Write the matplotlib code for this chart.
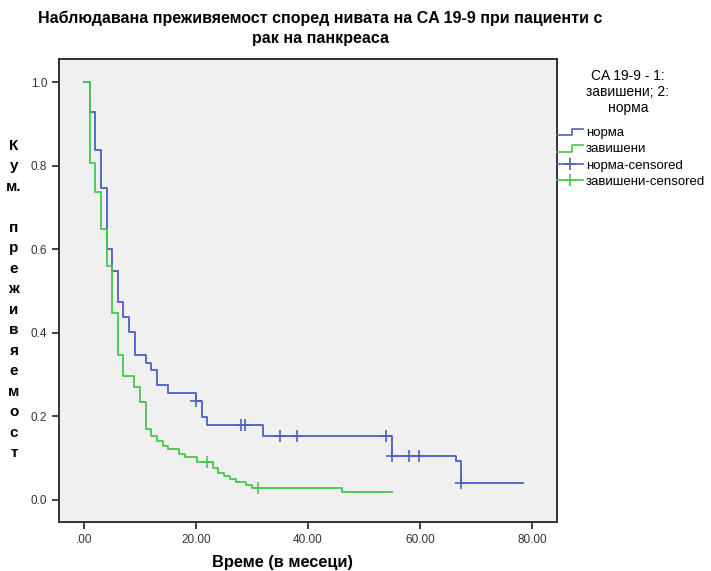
import matplotlib.pyplot as plt
from matplotlib.lines import Line2D
from matplotlib.legend_handler import HandlerBase

# norma (blue) - step times and survival after each step
norma_t = [0, 1.0, 1.9, 3.0, 4.0, 5.0, 6.1, 7.0, 8.0, 9.0, 11.0, 12.0, 13.0, 15.0,
           20.0, 21.0, 22.0, 32.0, 55.0, 66.4, 67.3, 78.5]
norma_s = [1.0, 0.928, 0.837, 0.746, 0.601, 0.547, 0.475, 0.438, 0.401, 0.347, 0.329,
           0.311, 0.275, 0.255, 0.238, 0.199, 0.180, 0.153, 0.104, 0.093, 0.041, 0.041]
norma_cens_t = [20.0, 28.1, 28.8, 35.0, 38.1, 54.0, 55.0, 58.0, 59.8, 67.3]
norma_cens_s = [0.238, 0.180, 0.180, 0.153, 0.153, 0.153, 0.104, 0.104, 0.104, 0.041]

# zavisheni (green)
zav_t = [0, 1.0, 1.9, 3.0, 4.0, 5.0, 6.0, 7.0, 8.9, 10.0, 11.0, 12.0, 13.0, 14.0, 15.0,
         17.0, 18.1, 20.1, 23.1, 24.0, 25.0, 26.0, 27.1, 28.9, 30.0, 46.1, 55.1]
zav_s = [1.0, 0.806, 0.737, 0.648, 0.561, 0.448, 0.347, 0.297, 0.271, 0.234, 0.170, 0.152,
         0.140, 0.128, 0.121, 0.109, 0.102, 0.090, 0.076, 0.064, 0.056, 0.050, 0.042,
         0.036, 0.029, 0.020, 0.020]
zav_cens_t = [22.0, 31.0]
zav_cens_s = [0.090, 0.029]

xticks = [0, 20, 40, 60, 80]
xticklabels = ['.00', '20.00', '40.00', '60.00', '80.00']
yticks = [0.0, 0.2, 0.4, 0.6, 0.8, 1.0]
yticklabels = ['0.0', '0.2', '0.4', '0.6', '0.8', '1.0']

blue = '#4d5fc4'
green = '#45c94a'

plt.rcParams['font.family'] = ['Liberation Sans', 'DejaVu Sans']


class HandlerStep(HandlerBase):
    def create_artists(self, legend, orig_handle, xdescent, ydescent, width, height, fontsize, trans):
        x0 = -xdescent
        y0 = -ydescent
        xs = [x0, x0 + width * 0.55, x0 + width * 0.55, x0 + width]
        ys = [y0 + height * 0.1, y0 + height * 0.1, y0 + height * 0.8, y0 + height * 0.8]
        ln = Line2D(xs, ys, color=orig_handle.get_color(), lw=orig_handle.get_linewidth())
        ln.set_transform(trans)
        return [ln]


fig = plt.figure(figsize=(7.11, 5.71), dpi=100)
ax = fig.add_axes([0.083, 0.0858, 0.7004, 0.8109])
ax.set_facecolor('#f0f0f0')

ax.step(norma_t, norma_s, where='post', color=blue, lw=1.3)
ax.step(zav_t, zav_s, where='post', color=green, lw=1.3)
ax.plot(norma_cens_t, norma_cens_s, ls='none', marker='+', ms=8, mew=1.2, color=blue)
ax.plot(zav_cens_t, zav_cens_s, ls='none', marker='+', ms=8, mew=1.2, color=green)

ax.set_xlim(-4.5, 84.5)
ax.set_ylim(-0.053, 1.056)
ax.set_xticks(xticks)
ax.set_xticklabels(xticklabels)
ax.set_yticks(yticks)
ax.set_yticklabels(yticklabels)
ax.tick_params(direction='out', length=5, width=1.2, color='#222222',
               labelsize=8.5, labelcolor='#333333')
for sp in ax.spines.values():
    sp.set_color('#333333')
    sp.set_linewidth(1.4)

# legend (title drawn separately)
fig.text(628 / 711, 1 - 92 / 571, 'CA 19-9 - 1:\nзавишени; 2:\nнорма', ha='center', va='center',
         fontsize=10, linespacing=1.2)
h1 = Line2D([], [], color=blue, lw=1.2)
h2 = Line2D([], [], color=green, lw=1.2)
h3 = Line2D([], [], color=blue, lw=1.2, marker='+', ms=9, mew=1.2)
h4 = Line2D([], [], color=green, lw=1.2, marker='+', ms=9, mew=1.2)
leg = fig.legend([h1, h2, h3, h4],
                 ['норма', 'завишени', 'норма-censored', 'завишени-censored'],
                 handler_map={h1: HandlerStep(), h2: HandlerStep()},
                 loc='upper left', bbox_to_anchor=(557 / 711, 1 - 127 / 571), frameon=False,
                 fontsize=9.5, handlelength=2.0, handletextpad=0.2,
                 labelspacing=0.3, borderaxespad=0, borderpad=0)

fig.text(320 / 711, 1 - 18 / 571,
         'Наблюдавана преживяемост според нивата на CA 19-9 при пациенти с',
         ha='center', va='center', fontsize=11.5, fontweight='bold')
fig.text(320 / 711, 1 - 39 / 571, 'рак на панкреаса',
         ha='center', va='center', fontsize=11.5, fontweight='bold')

fig.text(283 / 711, 1 - 562 / 571, 'Време (в месеци)', ha='center', va='center',
         fontsize=11.8, fontweight='bold')

ylab = ['К', 'у', 'м.', '', 'п', 'р', 'е', 'ж', 'и', 'в', 'я', 'е', 'м', 'о', 'с', 'т']
for i, ch in enumerate(ylab):
    fig.text(14 / 711, 1 - (146 + i * 20.47) / 571, ch, ha='center', va='center',
             fontsize=11, fontweight='bold')

fig.savefig('out.png', dpi=100)
